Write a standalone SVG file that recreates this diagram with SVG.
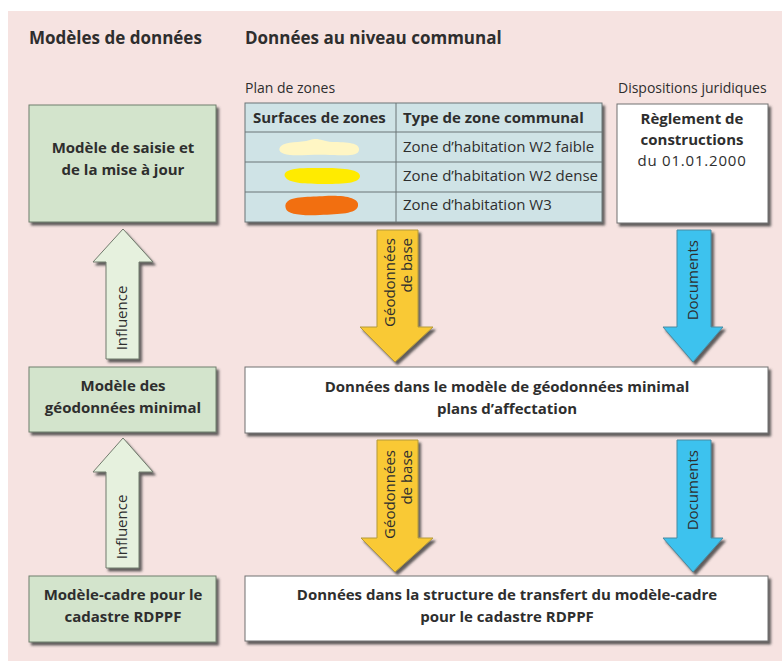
<svg xmlns="http://www.w3.org/2000/svg" width="782" height="661" viewBox="0 0 782 661">
<defs>
<filter id="sh" x="-5%" y="-5%" width="115%" height="120%">
<feDropShadow dx="2.5" dy="3" stdDeviation="1.3" flood-color="#3a3a3a" flood-opacity="0.8"/>
</filter>
<style>
text{font-family:"Open Sans","Noto Sans","Liberation Sans",sans-serif;fill:#2e2e2e}
.h{font-size:17px;font-weight:700}
.b{font-size:15px;font-weight:700}
.r{font-size:15px}
.s{font-size:14px}
.c{text-anchor:middle}
.e{text-anchor:end}
.green{fill:#d3e4cc;stroke:#6f7f6c;stroke-width:1}
.white{fill:#ffffff;stroke:#707070;stroke-width:1}
.infl{fill:#e6f1de;stroke:#707a6c;stroke-width:1}
.yel{fill:#f9c936;stroke:#b49a3a;stroke-width:1}
.blu{fill:#3cc2ee;stroke:#4a8aa0;stroke-width:1}
.tbl{fill:#cfe3e6;stroke:#6a7476;stroke-width:1}
.ln{stroke:#6a7476;stroke-width:1;fill:none}
</style>
</defs>
<rect x="0" y="0" width="782" height="661" fill="#ffffff"/>
<rect x="8" y="11" width="774" height="650" fill="#f6e3e1"/>

<text class="h" x="29" y="44">Modèles de données</text>
<text class="h" x="245" y="44">Données au niveau communal</text>
<text class="s" x="245" y="93">Plan de zones</text>
<text class="s" x="618" y="93">Dispositions juridiques</text>

<g id="connectors">
<g id="influence1">
<polygon class="infl" filter="url(#sh)" points="123,229 153,262 139,262 139,359 106,359 106,262 93,262"/>
<text class="r c" transform="translate(127,318) rotate(-90)">Influence</text>
</g>
<g id="influence2">
<polygon class="infl" filter="url(#sh)" points="123,438 153,472 139,472 139,568 106,568 106,472 93,472"/>
<text class="r c" transform="translate(127,527) rotate(-90)">Influence</text>
</g>
<g id="geo1">
<polygon class="yel" filter="url(#sh)" points="377,230 418,230 418,327 433,327 395,362 360,327 377,327"/>
<text class="r e" transform="translate(395,238) rotate(-90)">Géodonnées</text>
<text class="r e" transform="translate(412,238) rotate(-90)">de base</text>
</g>
<g id="doc1">
<polygon class="blu" filter="url(#sh)" points="677,230 711,230 711,327 723,327 693,362 663,327 677,327"/>
<text class="r e" transform="translate(698,240) rotate(-90)">Documents</text>
</g>
<g id="geo2">
<polygon class="yel" filter="url(#sh)" points="377,440 418,440 418,538 433,538 395,572 361,538 377,538"/>
<text class="r e" transform="translate(395,450) rotate(-90)">Géodonnées</text>
<text class="r e" transform="translate(412,450) rotate(-90)">de base</text>
</g>
<g id="doc2">
<polygon class="blu" filter="url(#sh)" points="677,440 711,440 711,538 723,538 693,572 663,538 677,538"/>
<text class="r e" transform="translate(698,450) rotate(-90)">Documents</text>
</g>
</g>

<g id="model-saisie">
<rect class="green" filter="url(#sh)" x="29" y="105" width="187" height="117"/>
<text class="b c" x="123" y="153">Modèle de saisie et</text>
<text class="b c" x="123" y="175">de la mise à jour</text>
</g>
<g id="model-minimal">
<rect class="green" filter="url(#sh)" x="29" y="367" width="187" height="65"/>
<text class="b c" x="123" y="391">Modèle des</text>
<text class="b c" x="123" y="413">géodonnées minimal</text>
</g>
<g id="model-cadre">
<rect class="green" filter="url(#sh)" x="29" y="576" width="187" height="66"/>
<text class="b c" x="123" y="600">Modèle-cadre pour le</text>
<text class="b c" x="123" y="622">cadastre RDPPF</text>
</g>

<g id="plan-zones">
<rect class="tbl" filter="url(#sh)" x="245" y="103" width="357" height="119"/>
<line class="ln" x1="396" y1="103" x2="396" y2="222"/>
<line class="ln" x1="245" y1="132" x2="602" y2="132"/>
<line class="ln" x1="245" y1="162" x2="602" y2="162"/>
<line class="ln" x1="245" y1="192" x2="602" y2="192"/>
<text class="b" x="253" y="123">Surfaces de zones</text>
<text class="b" x="403" y="123">Type de zone communal</text>
<path d="M281,146 C286,141 300,143 310,140 C318,137 322,141 332,142 C348,142 360,143 359,150 C358,157 345,155 330,155 C315,154 300,156 290,155 C280,154 277,150 281,146 Z" fill="#fff6c4"/>
<text class="r" x="403" y="152">Zone d’habitation W2 faible</text>
<path d="M286,172 C292,167 310,168 325,168 C345,168 360,170 360,176 C360,183 345,184 325,184 C305,184 290,183 286,178 C284,176 284,174 286,172 Z" fill="#ffeb00"/>
<text class="r" x="403" y="181">Zone d’habitation W2 dense</text>
<path d="M287,202 C292,196 310,197 325,196 C345,195 360,198 358,206 C356,214 340,214 320,215 C300,216 288,214 286,209 C285,206 285,204 287,202 Z" fill="#f26f10"/>
<text class="r" x="403" y="210">Zone d’habitation W3</text>
</g>

<g id="reglement">
<rect class="white" filter="url(#sh)" x="617" y="104" width="151" height="119"/>
<text class="b c" x="692" y="124">Règlement de</text>
<text class="b c" x="692" y="145">constructions</text>
<text class="r c" x="692" y="166" letter-spacing="0.8">du 01.01.2000</text>
</g>

<g id="donnees-minimal">
<rect class="white" filter="url(#sh)" x="245" y="367" width="523" height="66"/>
<text class="b c" x="507" y="392">Données dans le modèle de géodonnées minimal</text>
<text class="b c" x="507" y="414">plans d’affectation</text>
</g>
<g id="donnees-cadre">
<rect class="white" filter="url(#sh)" x="245" y="576" width="523" height="65"/>
<text class="b c" x="507" y="600">Données dans la structure de transfert du modèle-cadre</text>
<text class="b c" x="507" y="622">pour le cadastre RDPPF</text>
</g>
</svg>
